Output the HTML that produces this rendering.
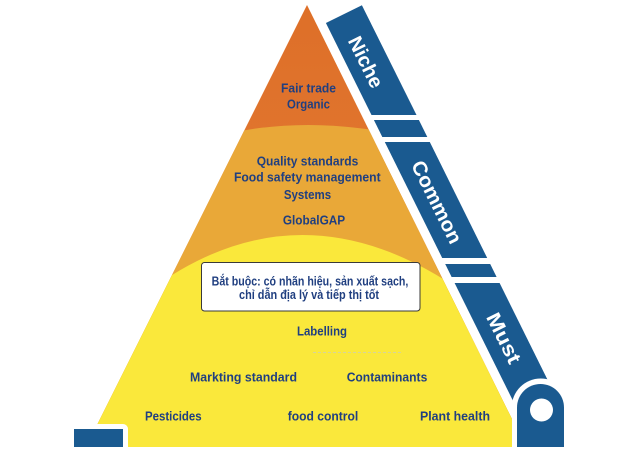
<!DOCTYPE html>
<html>
<head>
<meta charset="utf-8">
<style>
  html, body { margin:0; padding:0; background:#ffffff; }
  body { width:628px; height:474px; overflow:hidden; }
  svg { display:block; }
  .t { font-family:"Liberation Sans", "DejaVu Sans", sans-serif; font-weight:bold; font-size:13px; fill:#203f80; }
  .b { font-family:"Liberation Sans", "DejaVu Sans", sans-serif; font-weight:bold; font-size:20px; fill:#ffffff; }
</style>
</head>
<body>
<svg width="628" height="474" viewBox="0 0 628 474" xmlns="http://www.w3.org/2000/svg">
  <defs>
    <clipPath id="tri">
      <polygon points="307,5 512,419 512,447 86,447"/>
    </clipPath>
    <linearGradient id="og" x1="0" y1="0" x2="0" y2="1">
      <stop offset="0" stop-color="#de6f28"/>
      <stop offset="1" stop-color="#e4803a"/>
    </linearGradient>
  </defs>

  <!-- Pyramid layers -->
  <g clip-path="url(#tri)">
    <rect x="0" y="0" width="628" height="474" fill="url(#og)"/>
    <path d="M150,135 L220,135 Q307,115 400,135 L520,135 L520,460 L80,460 L80,135 Z" fill="#e9a838"/>
    <path d="M60,290 L150,290 Q300,180 460,290 L540,290 L540,460 L60,460 Z" fill="#fae83b"/>
  </g>

  <!-- bottom-left notch + blue block -->
  <rect x="-10" y="424" width="138" height="60" rx="5" ry="5" fill="#ffffff"/>
  <rect x="74" y="429" width="49" height="18" fill="#1a5a90"/>

  <!-- Right side bar segments -->
  <g fill="#1a5a90">
    <polygon points="325.9,23 361.9,5.3 416.5,115 371.5,115"/>
    <polygon points="373.9,120 418.9,120 427.3,137 382.3,137"/>
    <polygon points="384.8,142 429.8,142 487.2,258 442.2,258"/>
    <polygon points="445.2,264 490.2,264 496.6,277 451.6,277"/>
    <polygon points="454.6,283 499.6,283 565,415 520,415"/>
  </g>

  <!-- pedestal white ring -->
  <circle cx="540.7" cy="407.5" r="29" fill="#ffffff"/>
  <rect x="512" y="407.5" width="57.7" height="45" fill="#ffffff"/>
  <!-- pedestal -->
  <path d="M517,447 L517,407.5 A23.5,23.5 0 0 1 564,407.5 L564,447 Z" fill="#1a5a90"/>
  <circle cx="541.5" cy="410" r="11.5" fill="#ffffff"/>

  <!-- bar labels -->
  <text class="b" transform="translate(366,62) rotate(63.7)" text-anchor="middle" dy="7" textLength="55" lengthAdjust="spacingAndGlyphs">Niche</text>
  <text class="b" transform="translate(437,202) rotate(63.7)" text-anchor="middle" dy="7" textLength="90" lengthAdjust="spacingAndGlyphs">Common</text>
  <text class="b" transform="translate(504,338) rotate(63.7)" text-anchor="middle" dy="7" textLength="54" lengthAdjust="spacingAndGlyphs">Must</text>

  <!-- top labels -->
  <text class="t" x="308.5" y="92.5" text-anchor="middle" textLength="55" lengthAdjust="spacingAndGlyphs">Fair trade</text>
  <text class="t" x="308.5" y="108.5" text-anchor="middle" textLength="43" lengthAdjust="spacingAndGlyphs">Organic</text>

  <!-- middle labels -->
  <text class="t" x="307.5" y="165.5" text-anchor="middle" textLength="101.6" lengthAdjust="spacingAndGlyphs">Quality standards</text>
  <text class="t" x="307.3" y="181.5" text-anchor="middle" textLength="146.7" lengthAdjust="spacingAndGlyphs">Food safety management</text>
  <text class="t" x="307.5" y="199" text-anchor="middle" textLength="47.3" lengthAdjust="spacingAndGlyphs">Systems</text>
  <text class="t" x="314" y="224.5" text-anchor="middle" textLength="62.3" lengthAdjust="spacingAndGlyphs">GlobalGAP</text>

  <!-- box -->
  <rect x="201.5" y="262.5" width="218.5" height="48.5" rx="3" ry="3" fill="#ffffff" stroke="#3a3a3a" stroke-width="1"/>
  <text class="t" x="310" y="285.5" text-anchor="middle" font-size="12" textLength="196.7" lengthAdjust="spacingAndGlyphs">Bắt buộc: có nhãn hiệu, sản xuất sạch,</text>
  <text class="t" x="309" y="299" text-anchor="middle" font-size="12" textLength="140" lengthAdjust="spacingAndGlyphs">chỉ dẫn địa lý và tiếp thị tốt</text>

  <!-- lower labels -->
  <text class="t" x="322" y="335.5" text-anchor="middle" textLength="50" lengthAdjust="spacingAndGlyphs">Labelling</text>
  <line x1="313" y1="352.5" x2="403" y2="352.5" stroke="#d6d39c" stroke-width="1" stroke-dasharray="3,2"/>
  <text class="t" x="243.5" y="381.5" text-anchor="middle" textLength="107" lengthAdjust="spacingAndGlyphs">Markting standard</text>
  <text class="t" x="387" y="381.5" text-anchor="middle" textLength="80.6" lengthAdjust="spacingAndGlyphs">Contaminants</text>
  <text class="t" x="173.3" y="420.5" text-anchor="middle" textLength="56.7" lengthAdjust="spacingAndGlyphs">Pesticides</text>
  <text class="t" x="323" y="420.5" text-anchor="middle" textLength="70.6" lengthAdjust="spacingAndGlyphs">food control</text>
  <text class="t" x="455" y="420.5" text-anchor="middle" textLength="70" lengthAdjust="spacingAndGlyphs">Plant health</text>
</svg>
</body>
</html>
